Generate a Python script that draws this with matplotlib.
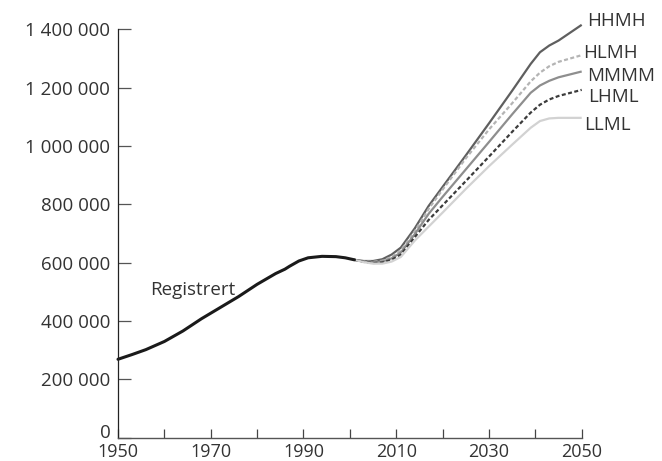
import matplotlib
matplotlib.use("Agg")
import matplotlib.pyplot as plt
from matplotlib.transforms import ScaledTranslation

plt.rcParams['font.family'] = ['Open Sans', 'DejaVu Sans']

# Registered population
reg_years = [1950, 1953, 1956, 1960, 1964, 1968, 1972, 1976, 1980, 1984, 1986, 1987, 1989, 1991, 1994, 1997, 1999, 2001]
reg_values = [269000, 285000, 302000, 330000, 366000, 408000, 446000, 484000, 526000, 563000, 578000, 588000, 606000, 617000, 622000, 621000, 617000, 610000]

# Projections
proj_years = [2001, 2003, 2005, 2007, 2009, 2011, 2014, 2017, 2020, 2025, 2030, 2035, 2039, 2041, 2043, 2045, 2050]
hhmh = [610000, 606000, 606000, 612000, 628000, 652000, 718000, 795000, 860000, 968000, 1078000, 1190000, 1282000, 1322000, 1345000, 1362000, 1416000]
hlmh = [610000, 605000, 603000, 607000, 620000, 642000, 708000, 785000, 851000, 958000, 1057000, 1147000, 1222000, 1252000, 1274000, 1289000, 1312000]
mmmm = [610000, 604000, 601000, 604000, 615000, 635000, 698000, 768000, 826000, 920000, 1014000, 1109000, 1183000, 1208000, 1224000, 1236000, 1256000]
lhml = [610000, 603000, 599000, 601000, 610000, 628000, 688000, 747000, 797000, 880000, 964000, 1049000, 1115000, 1142000, 1160000, 1172000, 1193000]
llml = [610000, 602000, 597000, 597000, 604000, 620000, 676000, 724000, 772000, 853000, 931000, 1005000, 1063000, 1086000, 1095000, 1097000, 1097000]

series_names = ['HHMH', 'HLMH', 'MMMM', 'LHML', 'LLML']
series_values = [hhmh, hlmh, mmmm, lhml, llml]
series_colors = ['#5f5f5f', '#b4b4b4', '#8e8e8e', '#3c3c3c', '#d2d2d2']
series_styles = ['-', (0, (1.8, 1.1)), '-', (0, (1.8, 1.1)), '-']
label_y = [1430000, 1318000, 1240000, 1170000, 1072000]
label_x = [2051.1, 2050.3, 2051.1, 2051.4, 2050.5]

y_ticks = [0, 200000, 400000, 600000, 800000, 1000000, 1200000, 1400000]
y_tick_labels = ['0', '200 000', '400 000', '600 000', '800 000', '1 000 000', '1 200 000', '1 400 000']
x_ticks = list(range(1950, 2051, 10))
x_tick_labels = ['1950', '', '1970', '', '1990', '', '2010', '', '2030', '', '2050']

W, H = 662, 461
fig = plt.figure(figsize=(W / 100, H / 100), dpi=100)
left, right = 118 / W, 581.7 / W
bottom, top = 1 - 437.7 / H, 1 - 29.5 / H
ax = fig.add_axes([left, bottom, right - left, top - bottom])

for name, vals, col, ls in zip(series_names, series_values, series_colors, series_styles):
    ax.plot(proj_years, vals, color=col, linestyle=ls, linewidth=1.6, clip_on=False,
            solid_capstyle='butt', dash_capstyle='butt')
ax.plot(reg_years, reg_values, color='#1a1a1a', linewidth=2.2, clip_on=False, solid_capstyle='round')

FS = 13.5
TXT = '#333333'
for name, lx, ly in zip(series_names, label_x, label_y):
    ax.text(lx, ly, name, fontsize=FS, color=TXT, ha='left', va='center', clip_on=False)

ax.text(1957, 505000, 'Registrert', fontsize=FS, color=TXT, ha='left', va='center')

ax.set_xlim(1950, 2050)
ax.set_ylim(0, 1400000)
ax.set_xticks(x_ticks)
ax.set_xticklabels(x_tick_labels)
ax.set_yticks(y_ticks)
ax.set_yticklabels(y_tick_labels)

for s in ['top', 'right']:
    ax.spines[s].set_visible(False)
ax.spines['left'].set_color('#222222')
ax.spines['left'].set_linewidth(0.9)
ax.spines['bottom'].set_color('#555555')
ax.spines['bottom'].set_linewidth(1.0)

ax.tick_params(axis='y', direction='in', length=9, width=0.9, color='#555555',
               labelsize=FS, labelcolor=TXT, pad=5.5)
ax.tick_params(axis='x', direction='in', length=6.5, width=0.9, color='#444444',
               labelsize=13, labelcolor=TXT, pad=4)

# Shift the "0" label slightly upward as in the original
lab0 = ax.get_yticklabels()[0]
lab0.set_transform(lab0.get_transform() + ScaledTranslation(0, 7 / 100, fig.dpi_scale_trans))

fig.savefig('out.png', dpi=100)
